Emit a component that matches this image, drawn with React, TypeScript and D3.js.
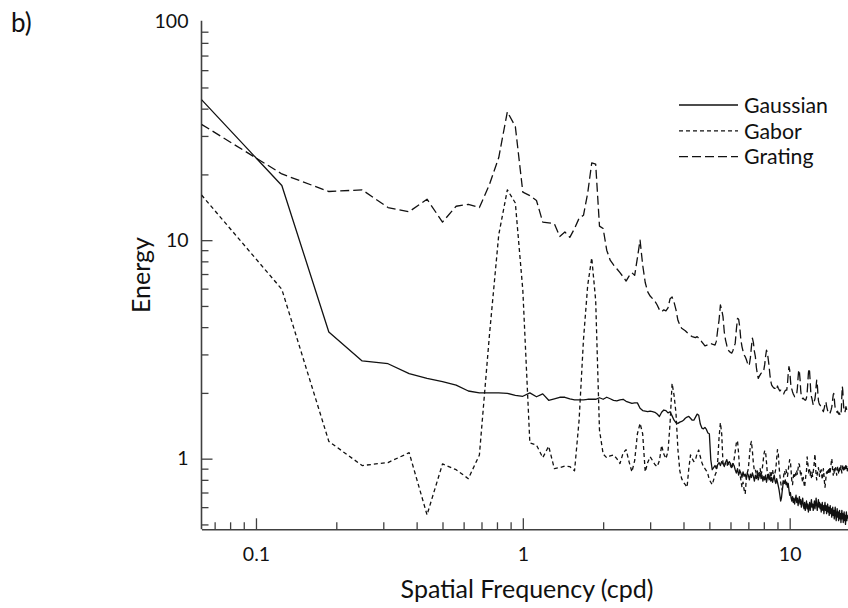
import { useEffect, useRef } from 'react';
import * as d3 from 'd3';

// samples are spaced evenly in spatial frequency, starting at one step
const FREQ_STEP = 0.0625;

const GAUSSIAN = [
  44, 17.8, 3.8, 2.8, 2.72, 2.45, 2.33, 2.25, 2.17, 2.04,
  2.0, 2.0, 2.0, 1.99, 1.95, 1.93, 2.0, 1.92, 1.98, 1.85,
  1.88, 1.91, 1.91, 1.88, 1.86, 1.86, 1.86, 1.87, 1.87, 1.87,
  1.9, 1.87, 1.91, 1.88, 1.85, 1.84, 1.86, 1.87, 1.83, 1.81,
  1.79, 1.8, 1.8, 1.7, 1.66, 1.65, 1.64, 1.65, 1.64, 1.63,
  1.6, 1.56, 1.63, 1.67, 1.66, 1.62, 1.64, 1.57, 1.5, 1.46,
  1.45, 1.47, 1.48, 1.5, 1.53, 1.55, 1.56, 1.53, 1.5, 1.5,
  1.55, 1.6, 1.58, 1.44, 1.38, 1.37, 1.39, 1.36, 1.31, 1.3,
  0.99, 0.89, 0.91, 0.93, 0.9, 0.94, 0.96, 0.93, 0.97, 0.95,
  0.92, 0.96, 0.99, 0.94, 0.97, 0.95, 0.91, 0.95, 0.93, 0.89,
  0.86, 0.9, 0.84, 0.88, 0.86, 0.82, 0.87, 0.83, 0.85, 0.81,
  0.86, 0.84, 0.8, 0.85, 0.82, 0.86, 0.83, 0.79, 0.84, 0.81,
  0.85, 0.8, 0.83, 0.86, 0.81, 0.84, 0.79, 0.83, 0.8, 0.84,
  0.78, 0.82, 0.85, 0.8, 0.83, 0.79, 0.82, 0.78, 0.81, 0.84,
  0.79, 0.77, 0.81, 0.78, 0.75, 0.72, 0.68, 0.64, 0.66, 0.71,
  0.76, 0.79, 0.77, 0.8, 0.76, 0.78, 0.74, 0.77, 0.72, 0.68,
  0.7, 0.66, 0.64, 0.67, 0.63, 0.66, 0.62, 0.65, 0.68, 0.63,
  0.66, 0.61, 0.64, 0.67, 0.62, 0.65, 0.6, 0.63, 0.66, 0.61,
  0.59, 0.63, 0.58, 0.61, 0.64, 0.59, 0.62, 0.57, 0.6, 0.63,
  0.58, 0.61, 0.65, 0.6, 0.62, 0.58, 0.61, 0.64, 0.59, 0.62,
  0.66, 0.61, 0.58, 0.62, 0.65, 0.6, 0.63, 0.59, 0.62, 0.57,
  0.6, 0.63, 0.58, 0.61, 0.56, 0.6, 0.63, 0.58, 0.61, 0.56,
  0.59, 0.62, 0.57, 0.6, 0.55, 0.58, 0.61, 0.56, 0.59, 0.54,
  0.57, 0.6, 0.55, 0.58, 0.53, 0.57, 0.6, 0.55, 0.52, 0.56,
  0.59, 0.54, 0.57, 0.52, 0.55, 0.58, 0.53, 0.56, 0.51, 0.55,
  0.58, 0.53, 0.56, 0.51, 0.54, 0.57, 0.52, 0.55, 0.5, 0.54,
  0.57, 0.52, 0.55, 0.53,
];

const GABOR = [
  16.1, 5.96, 1.2, 0.93, 0.96, 1.065, 0.553, 0.946, 0.89, 0.81,
  1.04, 3.7, 10.6, 17.0, 14.8, 5.9, 1.18, 1.155, 1.01, 1.14,
  0.9, 0.91, 0.925, 0.92, 0.88, 1.5, 3.5, 6.2, 8.3, 5.3,
  1.35, 1.05, 1.01, 1.03, 1.04, 1.0, 0.95, 1.06, 1.1, 0.97,
  0.87, 0.98, 1.3, 1.45, 1.3, 0.87, 0.96, 1.02, 0.98, 0.94,
  0.92, 0.98, 1.15, 1.05, 1.0, 1.08, 1.45, 2.21, 1.95, 1.61,
  1.1, 0.88, 0.81, 0.78, 0.76, 0.74, 0.9, 1.04, 1.0, 0.97,
  0.99, 1.06, 1.095, 1.02, 0.96, 0.92, 0.9, 0.88, 0.85, 0.8,
  0.78, 0.76, 0.8, 0.84, 0.87, 0.98, 1.25, 1.46, 1.3, 0.95,
  0.93, 0.96, 0.92, 0.95, 0.97, 0.93, 0.9, 0.94, 0.99, 1.08,
  1.18, 1.21, 1.05, 0.86, 0.8, 0.74, 0.78, 0.72, 0.69, 0.8,
  0.86, 0.9, 1.02, 1.15, 1.2, 1.08, 0.95, 0.88, 0.89, 0.85,
  0.88, 0.83, 0.86, 0.9, 0.84, 0.88, 0.95, 1.04, 1.09, 1.07,
  0.96, 0.85, 0.8, 0.84, 0.87, 0.82, 0.86, 0.89, 0.84, 0.81,
  0.86, 0.9, 1.0, 1.1, 1.06, 0.92, 0.84, 0.78, 0.74, 0.72,
  0.78, 0.84, 0.88, 0.85, 0.89, 0.86, 0.83, 0.88, 0.94, 0.99,
  0.97, 0.88, 0.79, 0.76, 0.82, 0.86, 0.83, 0.87, 0.84, 0.88,
  0.85, 0.9, 0.95, 0.94, 0.88, 0.83, 0.86, 0.81, 0.78, 0.82,
  0.77, 0.74, 0.79, 0.84, 0.88, 1.02, 0.96, 0.9, 0.85, 0.89,
  0.84, 0.87, 0.82, 0.86, 0.83, 0.87, 0.91, 0.98, 1.05, 0.93,
  0.84, 0.8, 0.85, 0.88, 0.91, 0.87, 0.83, 0.88, 0.85, 0.89,
  0.84, 0.8, 0.86, 0.9, 0.85, 0.78, 0.74, 0.78, 0.83, 0.87,
  0.84, 0.88, 0.85, 0.89, 0.86, 0.9, 0.87, 0.91, 0.96, 1.0,
  0.95, 0.88, 0.84, 0.89, 0.86, 0.9, 0.87, 0.91, 0.88, 0.84,
  0.88, 0.92, 0.89, 0.86, 0.9, 0.87, 0.91, 0.88, 0.93, 0.89,
  0.86, 0.9, 0.94, 0.9, 0.87, 0.91, 0.88, 0.92, 0.89, 0.94,
  0.9, 0.92, 0.88, 0.91,
];

const GRATING = [
  33.9, 20.1, 16.7, 17.0, 14.1, 13.5, 15.4, 12.1, 14.3, 14.6,
  14.1, 18.0, 23.9, 38.7, 33.1, 16.6, 16.0, 15.2, 12.1, 12.0,
  11.9, 10.4, 10.9, 10.3, 11.3, 12.6, 13.0, 16.4, 22.6, 22.3,
  11.6, 11.3, 9.0, 8.1, 7.7, 7.4, 7.1, 6.8, 6.5, 6.85,
  7.1, 6.9, 8.3, 10.0, 7.7, 6.4, 5.8, 5.55, 5.4, 5.26,
  5.05, 4.8, 4.7, 4.8, 4.75, 4.9, 5.4, 5.5, 5.2, 4.8,
  4.3, 4.1, 3.95, 3.9, 3.85, 3.78, 3.72, 3.66, 3.62, 3.6,
  3.58, 3.62, 3.56, 3.5, 3.42, 3.35, 3.28, 3.3, 3.32, 3.36,
  3.37, 3.34, 3.33, 3.31, 3.45, 3.9, 4.31, 5.05, 4.8, 4.47,
  3.8, 3.49, 3.3, 3.14, 3.1, 3.06, 3.04, 3.12, 3.25, 3.37,
  3.9, 4.39, 4.35, 4.0, 3.5, 3.26, 3.1, 2.98, 2.93, 2.85,
  2.75, 2.66, 2.7, 2.9, 3.25, 3.56, 3.4, 3.1, 2.93, 2.62,
  2.45, 2.33, 2.38, 2.42, 2.46, 2.46, 2.5, 2.55, 2.7, 2.95,
  3.14, 3.05, 2.85, 2.64, 2.4, 2.25, 2.17, 2.14, 2.12, 2.1,
  2.1, 2.12, 2.08, 2.15, 2.1, 2.07, 2.04, 2.06, 2.02, 2.0,
  1.99, 1.98, 2.02, 2.05, 2.06, 2.06, 2.2, 2.45, 2.64, 2.55,
  2.3, 2.1, 2.08, 2.02, 1.98, 1.95, 1.92, 1.93, 1.95, 1.98,
  2.1, 2.35, 2.55, 2.5, 2.3, 2.05, 1.92, 1.9, 1.88, 1.89,
  1.87, 1.86, 1.85, 1.86, 1.9, 2.0, 2.2, 2.45, 2.59, 2.5,
  2.25, 2.0, 1.92, 1.88, 1.82, 1.76, 1.8, 1.84, 1.88, 1.98,
  2.15, 2.29, 2.2, 2.0, 1.85, 1.8, 1.77, 1.76, 1.74, 1.72,
  1.7, 1.68, 1.66, 1.64, 1.68, 1.72, 1.78, 1.82, 1.8, 1.74,
  1.7, 1.66, 1.64, 1.62, 1.61, 1.63, 1.62, 1.65, 1.68, 1.72,
  1.78, 1.88, 1.96, 1.99, 1.9, 1.78, 1.7, 1.67, 1.66, 1.64,
  1.63, 1.65, 1.62, 1.6, 1.62, 1.61, 1.59, 1.58, 1.58, 1.7,
  1.95, 2.14, 2.05, 1.85, 1.72, 1.66, 1.63, 1.64, 1.68, 1.73,
  1.7, 1.66, 1.64, 1.63,
];

const SERIES_NAMES = ['Gaussian', 'Gabor', 'Grating'];
const SERIES_VALUES = [GAUSSIAN, GABOR, GRATING];
const SERIES_DASH = [null, '4,3', '9,4'];

const X_TICKS = [
  0.07, 0.08, 0.09, 0.1, 0.2, 0.3, 0.4, 0.5, 0.6, 0.7, 0.8, 0.9,
  1, 2, 3, 4, 5, 6, 7, 8, 9, 10,
];
const X_LABELS = [0.1, 1, 10];
const Y_TICKS = [
  0.5, 0.6, 0.7, 0.8, 0.9, 1, 2, 3, 4, 5, 6, 7, 8, 9,
  10, 20, 30, 40, 50, 60, 70, 80, 90, 100,
];
const Y_LABELS = [1, 10, 100];

const FONT = 'Lato, Carlito, "Open Sans", sans-serif';
const AXIS_COLOR = '#404040';

export default function App() {
  const svgRef = useRef<SVGSVGElement>(null);

  useEffect(() => {
    if (!svgRef.current) return;
    const svg = d3.select(svgRef.current);
    svg.selectAll('*').remove();

    const width = 848;
    const height = 608;
    const left = 201.5;
    const right = 848;
    const top = 21.7;
    const bottom = 529.3;

    const x = d3.scaleLog().domain([0.0625, 16.54]).range([left, right]);
    const y = d3.scaleLog().domain([0.475, 100]).range([bottom, top]);

    svg.attr('width', width).attr('height', height);

    svg
      .append('defs')
      .append('clipPath')
      .attr('id', 'plot-clip')
      .append('rect')
      .attr('x', left)
      .attr('y', 0)
      .attr('width', right - left)
      .attr('height', bottom);

    // Panel letter
    svg
      .append('text')
      .attr('x', 11)
      .attr('y', 32)
      .attr('font-family', FONT)
      .attr('font-size', '26px')
      .attr('fill', '#111')
      .text('b)');

    // X axis
    const isLabelX = (d: number) => X_LABELS.some((v) => Math.abs(v - d) < 1e-9);
    const xAxis = svg
      .append('g')
      .attr('transform', `translate(0,${bottom})`)
      .call(
        d3
          .axisBottom(x)
          .tickValues(X_TICKS)
          .tickSizeInner(-7)
          .tickSizeOuter(0)
          .tickPadding(18)
          .tickFormat((d) => (isLabelX(+d) ? d3.format('~g')(+d) : '')),
      );
    xAxis.select('.domain').attr('stroke', AXIS_COLOR).attr('stroke-width', 1.6);
    xAxis
      .selectAll<SVGLineElement, number>('.tick line')
      .attr('stroke', AXIS_COLOR)
      .attr('stroke-width', 1.3)
      .attr('y2', (d) => (isLabelX(d) ? -11 : -7));
    xAxis
      .selectAll('.tick text')
      .attr('font-family', FONT)
      .attr('font-size', '19.5px')
      .attr('fill', '#111');

    // Y axis
    const isLabelY = (d: number) => Y_LABELS.some((v) => Math.abs(v - d) < 1e-9);
    const yAxis = svg
      .append('g')
      .attr('transform', `translate(${left},0)`)
      .call(
        d3
          .axisLeft(y)
          .tickValues(Y_TICKS)
          .tickSizeInner(-7)
          .tickSizeOuter(0)
          .tickPadding(13)
          .tickFormat((d) => (isLabelY(+d) ? d3.format('~g')(+d) : '')),
      );
    yAxis
      .select('.domain')
      .attr('stroke', AXIS_COLOR)
      .attr('stroke-width', 1.6)
      .attr('d', `M0,${bottom}V${top - 1}`);
    yAxis
      .selectAll<SVGLineElement, number>('.tick line')
      .attr('stroke', AXIS_COLOR)
      .attr('stroke-width', 1.3)
      .attr('x2', (d) => (d === 100 ? 0 : isLabelY(d) ? 11 : 7));
    yAxis
      .selectAll('.tick text')
      .attr('font-family', FONT)
      .attr('font-size', '19.5px')
      .attr('fill', '#111');

    // Axis titles
    svg
      .append('text')
      .attr('x', 527)
      .attr('y', 598)
      .attr('text-anchor', 'middle')
      .attr('font-family', FONT)
      .attr('font-size', '25px')
      .attr('fill', '#111')
      .text('Spatial Frequency (cpd)');

    svg
      .append('text')
      .attr('transform', `translate(150,275) rotate(-90)`)
      .attr('text-anchor', 'middle')
      .attr('font-family', FONT)
      .attr('font-size', '25px')
      .attr('fill', '#111')
      .text('Energy');

    // Spectra
    const line = d3
      .line<number>()
      .x((_d, i) => x((i + 1) * FREQ_STEP))
      .y((d) => y(d));

    const plot = svg.append('g').attr('clip-path', 'url(#plot-clip)');
    SERIES_VALUES.forEach((values, s) => {
      plot
        .append('path')
        .datum(values)
        .attr('d', line)
        .attr('fill', 'none')
        .attr('stroke', '#111')
        .attr('stroke-width', 1.3)
        .attr('stroke-linejoin', 'round')
        .attr('stroke-dasharray', SERIES_DASH[s]);
    });

    // Legend
    const legend = svg.append('g').attr('transform', 'translate(679,105)');
    SERIES_NAMES.forEach((name, i) => {
      const row = legend.append('g').attr('transform', `translate(0,${i * 25.8})`);
      row
        .append('line')
        .attr('x1', 0)
        .attr('x2', 59)
        .attr('stroke', '#111')
        .attr('stroke-width', 1.3)
        .attr('stroke-dasharray', SERIES_DASH[i]);
      row
        .append('text')
        .attr('x', 65)
        .attr('y', 7.8)
        .attr('font-family', FONT)
        .attr('font-size', '21.3px')
        .attr('fill', '#111')
        .text(name);
    });
  }, []);

  return (
    <div style={{ position: 'absolute', left: 0, top: 0 }}>
      <svg ref={svgRef} style={{ display: 'block', background: '#fff' }} />
    </div>
  );
}
